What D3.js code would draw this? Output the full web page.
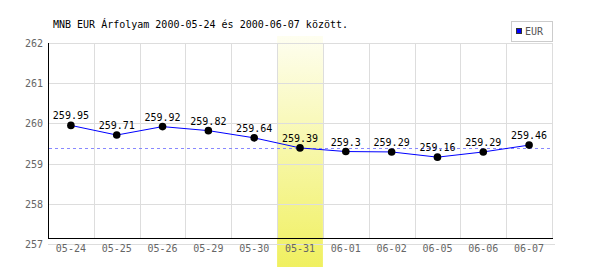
<!DOCTYPE html>
<html>
<head>
<meta charset="utf-8">
<script src="https://cdn.jsdelivr.net/npm/d3@7"></script>
<style>
  body { margin: 0; background: #fff; }
  text { font-family: "DejaVu Sans Mono", monospace; font-size: 10px; }
</style>
</head>
<body>
<svg id="chart" width="600" height="270"></svg>
<script>
// chart data
let dates = ["05-24", "05-25", "05-26", "05-29", "05-30", "05-31", "06-01", "06-02", "06-05", "06-06", "06-07"];
let eur = [259.95, 259.71, 259.92, 259.82, 259.64, 259.39, 259.3, 259.29, 259.16, 259.29, 259.46];
let yTicks = [257, 258, 259, 260, 261, 262];
let highlight = "05-31";
let title = "MNB EUR Árfolyam 2000-05-24 és 2000-06-07 között.";

let svg = d3.select("#chart");

let plotLeft = 48, plotRight = 552, plotTop = 43, plotBottom = 244, axisY = 238;

let x = d3.scaleBand().domain(dates).range([plotLeft, plotRight]);
let y = d3.scaleLinear().domain([257, 262]).range([plotBottom, plotTop]);

// gradient for highlighted day
let grad = svg.append("defs").append("linearGradient")
    .attr("id", "hl").attr("x1", 0).attr("y1", 0).attr("x2", 0).attr("y2", 1);
grad.append("stop").attr("offset", "0%").attr("stop-color", "#fefef0");
grad.append("stop").attr("offset", "100%").attr("stop-color", "#f0f060");

svg.append("rect")
    .attr("x", x(highlight))
    .attr("y", 36)
    .attr("width", x.bandwidth())
    .attr("height", 267 - 36)
    .attr("fill", "url(#hl)");

// grid
svg.append("g").selectAll("line")
    .data(yTicks)
    .enter().append("line")
    .attr("x1", plotLeft)
    .attr("x2", function (d) { return d == 257 ? plotRight + 3 : plotRight; })
    .attr("y1", function (d) { return Math.round(y(d)) + 0.5; })
    .attr("y2", function (d) { return Math.round(y(d)) + 0.5; })
    .attr("stroke", "#dddddd");

svg.append("g").selectAll("line")
    .data(dates)
    .enter().append("line")
    .attr("x1", function (d) { return Math.round(x(d) + x.bandwidth()) + 0.5; })
    .attr("x2", function (d) { return Math.round(x(d) + x.bandwidth()) + 0.5; })
    .attr("y1", plotTop)
    .attr("y2", axisY)
    .attr("stroke", "#dddddd");

// axes lines
svg.append("line")
    .attr("x1", plotLeft + 0.5).attr("x2", plotLeft + 0.5)
    .attr("y1", plotTop).attr("y2", axisY + 1)
    .attr("stroke", "#000");
svg.append("line")
    .attr("x1", plotLeft).attr("x2", plotRight + 1)
    .attr("y1", axisY + 0.5).attr("y2", axisY + 0.5)
    .attr("stroke", "#000");

// y labels
svg.append("g").selectAll("text")
    .data(yTicks)
    .enter().append("text")
    .attr("x", 43)
    .attr("y", function (d) { return y(d) + 4; })
    .attr("text-anchor", "end")
    .attr("fill", "#666")
    .text(function (d) { return d; });

// x labels
svg.append("g").selectAll("text")
    .data(dates)
    .enter().append("text")
    .attr("x", function (d) { return x(d) + x.bandwidth() / 2; })
    .attr("y", 252)
    .attr("text-anchor", "middle")
    .attr("fill", "#666")
    .text(function (d) { return d; });

// reference line at highlighted value
let hv = eur[dates.indexOf(highlight)];
svg.append("line")
    .attr("x1", plotLeft + 1).attr("x2", plotRight)
    .attr("y1", Math.round(y(hv)) + 0.5).attr("y2", Math.round(y(hv)) + 0.5)
    .attr("stroke", "#8888ff")
    .attr("stroke-dasharray", "3,3");

// series
let line = d3.line()
    .x(function (d, i) { return x(dates[i]) + x.bandwidth() / 2; })
    .y(function (d) { return y(d); });

svg.append("path")
    .datum(eur)
    .attr("d", line)
    .attr("fill", "none")
    .attr("stroke", "#0000ff")
    .attr("stroke-width", 1);

svg.append("g").selectAll("circle")
    .data(eur)
    .enter().append("circle")
    .attr("cx", function (d, i) { return x(dates[i]) + x.bandwidth() / 2; })
    .attr("cy", function (d) { return y(d); })
    .attr("r", 3.8)
    .attr("fill", "#000");

svg.append("g").selectAll("text")
    .data(eur)
    .enter().append("text")
    .attr("x", function (d, i) { return x(dates[i]) + x.bandwidth() / 2; })
    .attr("y", function (d) { return y(d) - 6; })
    .attr("text-anchor", "middle")
    .attr("fill", "#000")
    .text(function (d) { return d; });

// title
svg.append("text")
    .attr("x", 53)
    .attr("y", 28)
    .attr("fill", "#000")
    .text(title);

// legend
let lg = svg.append("g");
lg.append("rect")
    .attr("x", 511.5).attr("y", 21.5)
    .attr("width", 41).attr("height", 20)
    .attr("fill", "#fff")
    .attr("stroke", "#cccccc");
lg.append("rect")
    .attr("x", 516.5).attr("y", 28.5)
    .attr("width", 5).attr("height", 5)
    .attr("fill", "#0000ff")
    .attr("stroke", "#333");
lg.append("text")
    .attr("x", 525)
    .attr("y", 35)
    .attr("fill", "#555")
    .text("EUR");
</script>
</body>
</html>
